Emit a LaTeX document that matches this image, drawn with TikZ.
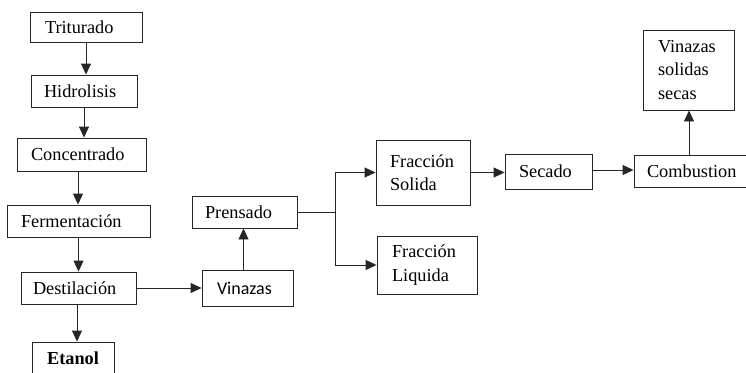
\documentclass[tikz,border=0pt]{standalone}
\usepackage{fontspec}
\setmainfont{Liberation Serif}
\newfontfamily\calfont{Carlito}
\usetikzlibrary{arrows.meta}
\begin{document}
\begin{tikzpicture}[x=1pt,y=-1pt,
  box/.style={draw=black!85, line width=0.9pt, rectangle, align=left, inner ysep=2pt,
    font=\fontsize{18.3}{23.5}\selectfont},
  arr/.style={draw=black!85, line width=0.9pt, -{Triangle[length=11pt,width=10pt]}},
  ln/.style={draw=black!85, line width=0.9pt}]
\useasboundingbox (0,0) rectangle (746,372);
% left column
\node[box, minimum height=30, text width=82, inner xsep=15] (tri) at (86,27) {Triturado};
\node[box, minimum height=32, text width=80, inner xsep=13] (hid) at (84,91) {Hidrolisis};
\node[box, minimum height=33, text width=101, inner xsep=14] (con) at (81.5,154.5) {Concentrado};
\node[box, minimum height=32, text width=115, inner xsep=14] (fer) at (78.5,221) {Fermentación};
\node[box, minimum height=32, text width=91, inner xsep=12] (des) at (78.5,288) {Destilación};
\node[box, minimum height=32, text width=82, inner xsep=0, align=center] (eta) at (73,358) {\textbf{Etanol}};
% middle
\node[box, minimum height=36, text width=61, inner xsep=15, font=\calfont\fontsize{18}{22}\selectfont] (vin) at (247.5,288) {Vinazas};
\node[box, minimum height=32, text width=79, inner xsep=13] (pre) at (244.5,212) {Prensado};
\node[box, minimum height=65, text width=66, inner xsep=14] (fs) at (423,172.5) {Fracción\\Solida};
\node[box, minimum height=58, text width=70, inner xsep=15] (fl) at (427,265) {Fracción\\Liquida};
\node[box, minimum height=35, text width=59, inner xsep=14] (sec) at (548.5,171.5) {Secado};
\node[box, minimum height=32, text width=88, inner xsep=13] (com) at (691,171) {Combustion};
\node[box, minimum height=80, text width=61, inner xsep=15] (vss) at (688.5,70) {Vinazas\\solidas\\secas};
% connectors
\draw[arr] (tri.south) -- (tri.south |- hid.north);
\draw[arr] (hid.south) -- (hid.south |- con.north);
\draw[arr] ([xshift=-3.5]con.south) -- ([xshift=-3.5]con.south |- fer.north);
\draw[arr] (fer.south) -- (fer.south |- des.north);
\draw[arr] ([xshift=-1.5]des.south) -- ([xshift=-1.5]des.south |- eta.north);
\draw[arr] (des.east) -- (vin.west);
\draw[arr] ([xshift=-4]vin.north) -- ([xshift=-4]vin.north |- pre.south);
\coordinate (br) at (335,212);
\draw[ln] (pre.east) -- (br);
\draw[arr] (br) |- (fs.west);
\draw[arr] (br) |- (fl.west);
\draw[arr] (fs.east) -- (fs.east -| sec.west);
\draw[arr] ([yshift=1.5]sec.east) -- ([yshift=1.5]sec.east -| com.west);
\draw[arr] ([xshift=-2]com.north) -- ([xshift=-2]com.north |- vss.south);
\end{tikzpicture}
\end{document}
